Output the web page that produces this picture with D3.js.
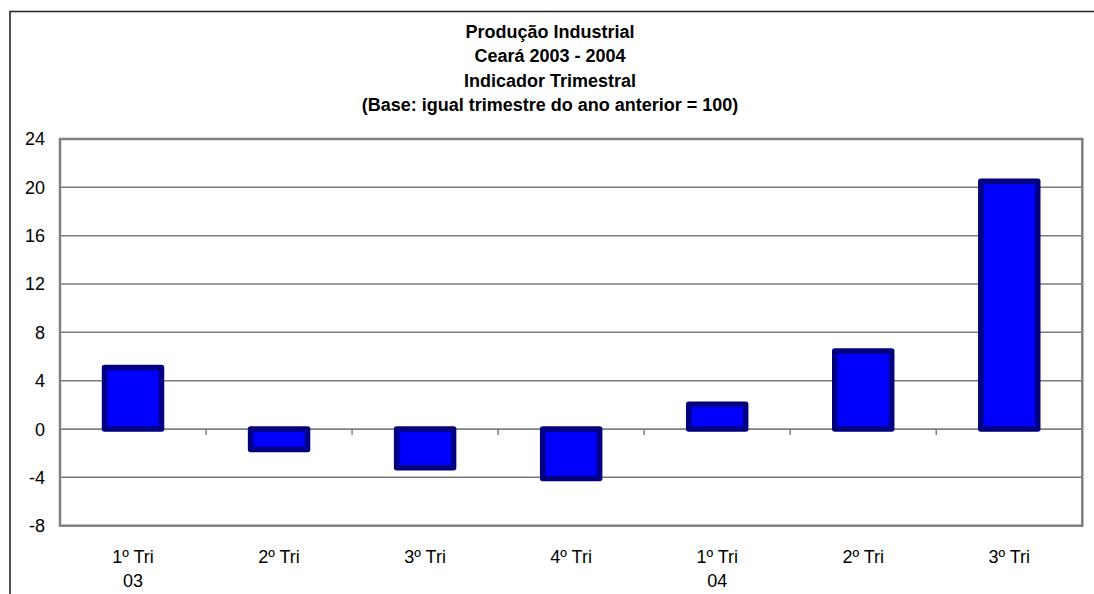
<!DOCTYPE html>
<html>
<head>
<meta charset="utf-8">
<script src="https://cdn.jsdelivr.net/npm/d3@7"></script>
<style>
  html, body { margin: 0; padding: 0; background: #fff; }
  svg { display: block; font-family: "Liberation Sans", Arial, sans-serif; }
</style>
</head>
<body>
<svg id="chart" width="1094" height="594"></svg>
<script>
const titleLines = ["Produção Industrial", "Ceará 2003 - 2004", "Indicador Trimestral", "(Base: igual trimestre do ano anterior = 100)"];
const quarterLabels = ["1º Tri", "2º Tri", "3º Tri", "4º Tri", "1º Tri", "2º Tri", "3º Tri"];
const yearLabels = ["03", "", "", "", "04", "", ""];
const values = [5.1, -1.7, -3.2, -4.1, 2.05, 6.45, 20.5];
const yTicks = [-8, -4, 0, 4, 8, 12, 16, 20, 24];

const svg = d3.select("#chart");
const plot = { left: 60, right: 1082.3, top: 139, bottom: 525.7 };

// outer chart border (top and left visible)
svg.append("path")
  .attr("d", `M10,594 L10,11.5 L1094,11.5`)
  .attr("fill", "none").attr("stroke", "#262626").attr("stroke-width", 1.6);

// title
const title = svg.append("text").attr("text-anchor", "middle")
  .attr("font-weight", "bold").attr("font-size", 18).attr("fill", "#000");
titleLines.forEach((t, i) => {
  title.append("tspan").attr("x", 550).attr("y", 38 + i * 24.3).text(t);
});

const idx = values.map((d, i) => i);
const x = d3.scaleBand().domain(idx).range([plot.left, plot.right])
  .paddingInner(0.61).paddingOuter(0.305);
const step = x.step();
const y = d3.scaleLinear().domain([-8, 24]).range([plot.bottom, plot.top]);

// gridlines
svg.append("g").selectAll("line").data(yTicks.filter(t => t !== -8 && t !== 24 && t !== 0))
  .join("line")
  .attr("x1", plot.left).attr("x2", plot.right)
  .attr("y1", d => y(d)).attr("y2", d => y(d))
  .attr("stroke", "#7a7a7a").attr("stroke-width", 1.5);

// zero line with ticks
svg.append("line")
  .attr("x1", plot.left).attr("x2", plot.right)
  .attr("y1", y(0)).attr("y2", y(0))
  .attr("stroke", "#808080").attr("stroke-width", 1.8);
svg.append("g").selectAll("line").data(d3.range(values.length + 1))
  .join("line")
  .attr("x1", d => plot.left + d * step).attr("x2", d => plot.left + d * step)
  .attr("y1", y(0)).attr("y2", y(0) + 6)
  .attr("stroke", "#808080").attr("stroke-width", 1.5);

// plot area border
svg.append("rect")
  .attr("x", plot.left).attr("y", plot.top)
  .attr("width", plot.right - plot.left).attr("height", plot.bottom - plot.top)
  .attr("fill", "none").attr("stroke", "#808080").attr("stroke-width", 2.5);

// bars
svg.append("g").selectAll("rect").data(values)
  .join("rect")
  .attr("x", (d, i) => x(i))
  .attr("width", x.bandwidth())
  .attr("y", d => y(Math.max(0, d)))
  .attr("height", d => Math.abs(y(d) - y(0)))
  .attr("fill", "#0000ff")
  .attr("stroke", "#000080").attr("stroke-width", 5.5)
  .attr("stroke-linejoin", "round");

// y labels
svg.append("g").selectAll("text").data(yTicks)
  .join("text")
  .attr("x", 45).attr("y", d => y(d)).attr("dy", "0.36em")
  .attr("text-anchor", "end").attr("font-size", 18).attr("fill", "#000")
  .text(d => d);

// x labels
const xl = svg.append("g").selectAll("text").data(idx)
  .join("text")
  .attr("text-anchor", "middle").attr("font-size", 18).attr("fill", "#000");
xl.append("tspan").attr("x", i => x(i) + x.bandwidth() / 2).attr("y", 563).text(i => quarterLabels[i]);
xl.append("tspan").attr("x", i => x(i) + x.bandwidth() / 2).attr("y", 587).text(i => yearLabels[i]);
</script>
</body>
</html>
